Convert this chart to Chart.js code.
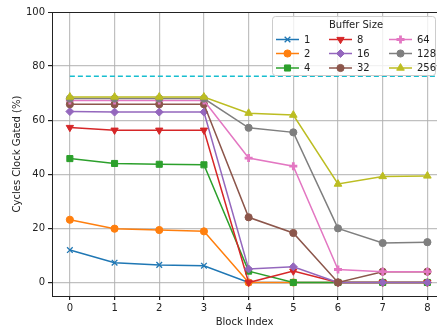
<!DOCTYPE html>
<html>
<head>
<meta charset="utf-8">
<script src="https://cdn.jsdelivr.net/npm/chart.js@4/dist/chart.umd.min.js"></script>
<style>
  html, body { margin: 0; padding: 0; background: #fff; overflow: hidden; }
  #wrap { width: 444px; height: 329px; position: relative; }
</style>
</head>
<body>
<div id="wrap"><canvas id="gatedChart"></canvas></div>
<script>
const blockIndex = [0, 1, 2, 3, 4, 5, 6, 7, 8];
const bufferSizes = ['1', '2', '4', '8', '16', '32', '64', '128', '256'];

const buf1   = [12.0, 7.3, 6.5, 6.2, 0, 0, 0, 0, 0];
const buf2   = [23.2, 19.9, 19.4, 18.9, 0, 0, 0, 0, 0];
const buf4   = [45.8, 44.0, 43.7, 43.5, 4.2, 0, 0, 0, 0];
const buf8   = [57.3, 56.3, 56.3, 56.3, 0, 4.2, 0, 0, 0];
const buf16  = [63.2, 63.0, 63.0, 63.0, 5.0, 5.8, 0, 0, 0];
const buf32  = [65.9, 65.9, 65.9, 65.9, 24.1, 18.3, 0, 4.0, 4.0];
const buf64  = [67.3, 67.3, 67.3, 67.3, 46.0, 43.0, 4.8, 4.0, 4.0];
const buf128 = [68.0, 68.0, 68.0, 68.0, 57.2, 55.5, 20.0, 14.6, 14.9];
const buf256 = [68.6, 68.6, 68.6, 68.6, 62.6, 61.9, 36.4, 39.2, 39.4];

// dashed reference level, runs from block 0 past the right edge
const referenceLevel = 76.2;
const referenceSpan = [0, 8.5];

const yTicks = [0, 20, 40, 60, 80, 100];

const seriesValues = [buf1, buf2, buf4, buf8, buf16, buf32, buf64, buf128, buf256];
const colors = ['#1f77b4', '#ff7f0e', '#2ca02c', '#d62728', '#9467bd', '#8c564b', '#e377c2', '#7f7f7f', '#bcbd22'];
const markers = ['crossRot', 'circle', 'rect', 'triangle', 'rectRot', 'circle', 'cross', 'circle', 'triangle'];
const rotations = [0, 0, 0, 180, 0, 0, 0, 0, 0];
const radii = [4, 3.6, 4.3, 4.2, 4, 3.6, 4, 3.6, 4.4];
const pointBorders = [1.3, 1, 1, 1, 1, 1, 2.8, 1, 1];

function toPoints(values) {
  return values.map((v, i) => ({ x: blockIndex[i], y: v }));
}

const datasets = seriesValues.map((vals, i) => ({
  label: bufferSizes[i],
  data: toPoints(vals),
  borderColor: colors[i],
  backgroundColor: colors[i],
  borderWidth: 1.5,
  pointStyle: markers[i],
  pointRotation: rotations[i],
  pointRadius: radii[i],
  pointBorderWidth: pointBorders[i],
  pointBackgroundColor: colors[i],
  pointBorderColor: colors[i],
  order: 10 - i
}));

datasets.push({
  label: 'reference',
  data: referenceSpan.map(x => ({ x, y: referenceLevel })),
  borderColor: '#17becf',
  borderWidth: 1.5,
  borderDash: [5, 3],
  pointRadius: 0,
  order: 20
});

// matplotlib style legend box, 3 columns filled top to bottom
const boxLegend = {
  id: 'boxLegend',
  afterDraw(chart) {
    const ctx = chart.ctx;
    ctx.save();
    ctx.fillStyle = 'rgba(255,255,255,0.8)';
    ctx.strokeStyle = '#cccccc';
    ctx.lineWidth = 1;
    ctx.beginPath();
    ctx.roundRect(272.5, 16.5, 163, 59, 3);
    ctx.fill();
    ctx.stroke();

    ctx.fillStyle = '#222';
    ctx.font = '10px "DejaVu Sans"';
    ctx.textAlign = 'center';
    ctx.textBaseline = 'middle';
    ctx.fillText('Buffer Size', 356, 25.5);

    const colX = [276, 329, 389];
    const rowY = [39.5, 53.5, 68];
    ctx.textAlign = 'left';
    for (let i = 0; i < 9; i++) {
      const c = Math.floor(i / 3), r = i % 3;
      const x0 = colX[c], y = rowY[r];
      ctx.strokeStyle = colors[i];
      ctx.lineWidth = 1.5;
      ctx.beginPath();
      ctx.moveTo(x0, y);
      ctx.lineTo(x0 + 23, y);
      ctx.stroke();
      if (Chart.helpers && Chart.helpers.drawPoint) {
        ctx.fillStyle = colors[i];
        ctx.lineWidth = pointBorders[i];
        Chart.helpers.drawPoint(ctx, {
          pointStyle: markers[i], rotation: rotations[i], radius: radii[i], borderWidth: pointBorders[i]
        }, x0 + 11.5, y);
      }
      ctx.fillStyle = '#222';
      ctx.fillText(bufferSizes[i], x0 + 28, y + 0.5);
    }
    ctx.restore();
  }
};

const gridGray = 'rgba(176,176,176,0.8)';

new Chart(document.getElementById('gatedChart'), {
  type: 'line',
  data: { datasets },
  plugins: [boxLegend],
  options: {
    responsive: true,
    maintainAspectRatio: false,
    animation: false,
    layout: { padding: { top: 12, right: 0, left: 0, bottom: 0 } },
    plugins: { legend: { display: false }, tooltip: { enabled: false } },
    scales: {
      x: {
        type: 'linear',
        min: -0.4,
        max: 8.22,
        afterFit: s => { s.height = 33; },
        ticks: {
          stepSize: 1,
          includeBounds: false,
          color: '#222',
          font: { family: 'DejaVu Sans', size: 10 },
          padding: 2,
          maxRotation: 0
        },
        grid: { color: gridGray, lineWidth: 1.2, tickColor: '#222', tickLength: 4 },
        border: { color: '#222', width: 1 },
        title: {
          display: true, text: 'Block Index', color: '#222',
          font: { family: 'DejaVu Sans', size: 10 }, padding: { top: 0, bottom: 1 }
        }
      },
      y: {
        min: -5,
        max: 100,
        afterFit: s => { s.width = 52; },
        afterBuildTicks: s => { s.ticks = yTicks.map(v => ({ value: v })); },
        ticks: {
          color: '#222',
          font: { family: 'DejaVu Sans', size: 10 },
          padding: 3
        },
        grid: {
          color: c => (c.tick && c.tick.value === 100) ? '#222' : gridGray,
          lineWidth: c => (c.tick && c.tick.value === 100) ? 1 : 1.2,
          tickColor: '#222',
          tickLength: 4
        },
        border: { color: '#222', width: 1 },
        title: {
          display: true, text: 'Cycles Clock Gated (%)', color: '#222',
          font: { family: 'DejaVu Sans', size: 10 }, padding: { top: 11, bottom: 4 }
        }
      }
    }
  }
});
</script>
</body>
</html>
